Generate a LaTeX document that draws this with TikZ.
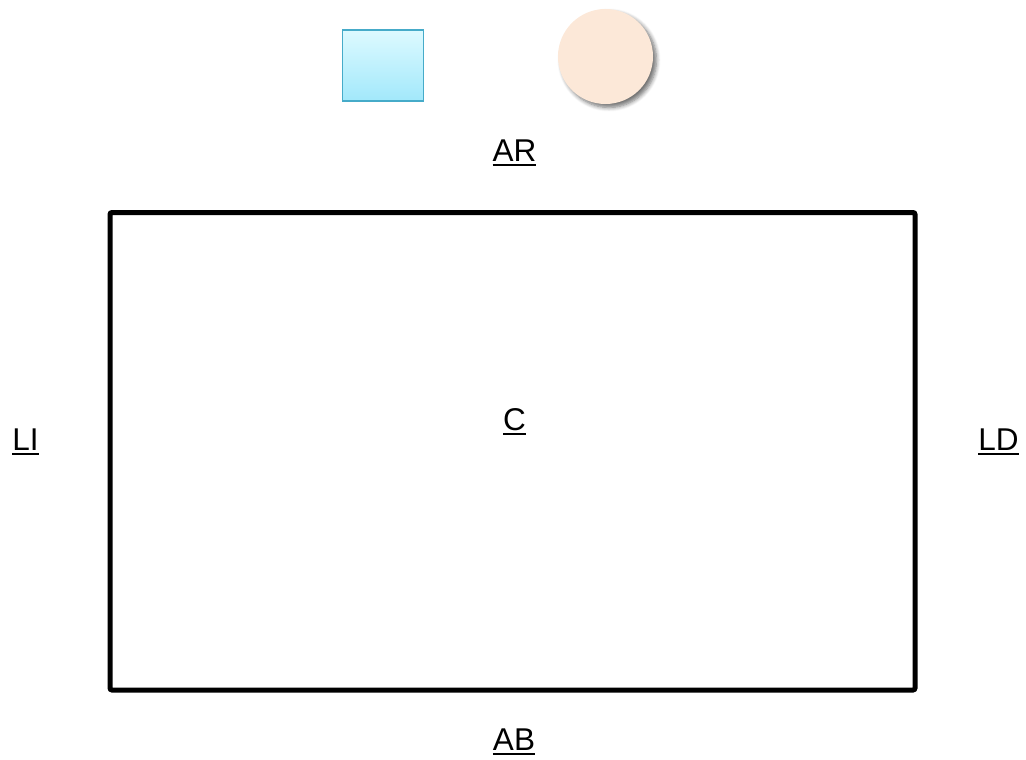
\documentclass[tikz,border=0pt]{standalone}
\usepackage{fontspec}
\setmainfont{Liberation Sans}
\usetikzlibrary{shadows.blur}
\definecolor{sqedge}{HTML}{46ABC9}
\definecolor{sqtop}{HTML}{DDFAFF}
\definecolor{sqbot}{HTML}{A2E8FB}
\definecolor{peach}{HTML}{FCE8D8}
\newcommand\ulbl[1]{\setbox0\hbox{#1}\rlap{\rule[-5pt]{\wd0}{2pt}}\box0}
\tikzset{lbl/.style={font=\fontsize{31.5}{36}\selectfont, inner sep=0pt, anchor=base}}

\begin{document}
\begin{tikzpicture}[x=1pt,y=-1pt]
\useasboundingbox (0,0) rectangle (1026,760);
\node[draw=sqedge, line width=1.8pt, top color=sqtop, bottom color=sqbot, minimum width=81pt, minimum height=71pt, inner sep=0pt] (sq) at (383,65.5) {};
\node[circle, fill=peach, minimum size=95pt, inner sep=0pt, blur shadow={shadow xshift=3.5pt, shadow yshift=-3.5pt, shadow blur steps=6, shadow blur radius=4pt, shadow opacity=55}] (ball) at (605.5,56.5) {};
\node[draw, line width=5pt, rounded corners=2pt, minimum width=805pt, minimum height=477.5pt, inner sep=0pt] (frame) at (512.5,451.25) {};
\node[lbl] (ar) at (514.5,161) {\ulbl{AR}};
\node[lbl] (c) at (514.5,430) {\ulbl{C}};
\node[lbl] (li) at (25.5,450) {\ulbl{LI}};
\node[lbl] (ld) at (998.5,450) {\ulbl{LD}};
\node[lbl] (ab) at (514,750) {\ulbl{AB}};
\end{tikzpicture}
\end{document}
